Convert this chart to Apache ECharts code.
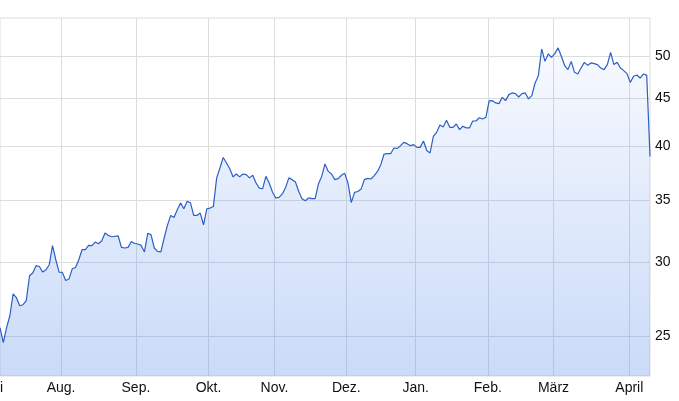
<!DOCTYPE html>
<html><head><meta charset="utf-8">
<script src="https://cdn.jsdelivr.net/npm/echarts@6/dist/echarts.min.js"></script>
<style>html,body{margin:0;padding:0;background:#fff}#c{width:679px;height:401px}</style>
</head><body><div id="c"></div>
<script>
// daily closing prices (trading days, mid July -> early April)
const prices = [
25.53,24.60,25.53,26.29,27.76,27.49,26.95,27.02,27.30,29.03,
29.24,29.76,29.70,29.29,29.46,29.83,31.27,30.20,29.29,29.27,
28.69,28.79,29.53,29.63,30.20,30.96,30.96,31.29,31.27,31.55,
31.42,31.65,32.27,32.07,31.97,32.01,32.03,31.14,31.09,31.14,
31.60,31.44,31.40,31.29,30.79,32.24,32.13,31.09,30.83,30.79,
31.87,32.88,33.70,33.53,34.18,34.76,34.26,34.89,34.78,33.70,
33.70,33.90,32.93,34.26,34.32,34.46,36.98,37.90,38.90,38.37,
37.83,37.07,37.34,37.07,37.34,37.28,36.98,37.22,36.52,36.06,
36.00,37.12,36.52,35.71,35.19,35.24,35.54,36.12,36.98,36.82,
36.61,35.76,35.13,34.95,35.19,35.13,35.13,36.43,37.12,38.28,
37.58,37.34,36.82,36.91,37.22,37.40,36.52,34.78,35.68,35.76,
35.97,36.82,36.94,36.88,37.19,37.58,38.21,39.23,39.26,39.26,
39.82,39.78,40.05,40.38,40.25,40.05,40.15,39.88,39.88,40.52,
39.58,39.33,40.99,41.39,42.16,41.95,42.64,41.91,41.91,42.26,
41.67,42.02,41.85,41.85,42.57,42.57,42.92,42.78,42.96,44.74,
44.77,44.52,44.44,45.14,44.77,45.44,45.63,45.55,45.18,45.55,
45.63,44.96,45.33,46.77,47.63,50.88,49.34,50.26,49.84,50.30,
51.01,49.96,48.83,48.34,49.34,48.02,47.83,48.54,49.22,48.86,
49.15,49.07,48.95,48.54,48.34,48.95,50.46,48.95,49.22,48.54,
48.22,47.86,46.84,47.55,47.71,47.35,47.83,47.66,39.00
];
// month boundaries, in trading-day index units
const monthLabels = ['Aug.','Sep.','Okt.','Nov.','Dez.','Jan.','Feb.','März','April'];
const monthPos = [18.6,41.4,63.5,83.6,105.5,126.6,148.6,168.6,191.7];
const yTicks = [25,30,35,40,45,50];

const chart = echarts.init(document.getElementById('c'), null, {renderer:'canvas'});
const FONT = 'Liberation Sans, Arial, sans-serif';
chart.setOption({
  animation: false,
  backgroundColor: '#fff',
  grid: {left: 0, right: 29, top: 18, bottom: 25, show: true, borderColor: '#dddddd', borderWidth: 1, backgroundColor: 'transparent'},
  xAxis: {
    type: 'value', min: 0, max: prices.length - 1,
    axisLine: {show: false}, axisTick: {show: false, customValues: monthPos},
    splitLine: {show: true, lineStyle: {color: '#dddddd', width: 1}},
    axisLabel: {
      customValues: monthPos, margin: 5, color: '#111', fontSize: 14, fontFamily: FONT,
      formatter: function (v) {
        let best = 0;
        for (let i = 1; i < monthPos.length; i++) if (Math.abs(monthPos[i] - v) < Math.abs(monthPos[best] - v)) best = i;
        return monthLabels[best];
      }
    }
  },
  yAxis: {
    type: 'log', position: 'right', min: 22.65, max: 54.93, logBase: 10,
    axisLine: {show: false}, axisTick: {show: false, customValues: yTicks},
    splitLine: {show: true, lineStyle: {color: '#dddddd', width: 1}},
    axisLabel: {customValues: yTicks, margin: 5, color: '#111', fontSize: 14, fontFamily: FONT, formatter: v => String(Math.round(v))}
  },
  graphic: [{
    type: 'text', x: 3, y: 381, silent: true,
    style: {text: 'Juli', align: 'right', verticalAlign: 'top', font: '14px ' + FONT, fill: '#111'}
  }],
  series: [{
    type: 'line', data: prices.map((v, i) => [i, v]), showSymbol: false, smooth: false,
    lineStyle: {color: '#2a5fc8', width: 1.2},
    areaStyle: {color: new echarts.graphic.LinearGradient(0, 0, 0, 1, [
      {offset: 0, color: 'rgba(65,125,232,0.06)'},
      {offset: 1, color: 'rgba(65,125,232,0.40)'}
    ])}
  }]
});
</script></body></html>
